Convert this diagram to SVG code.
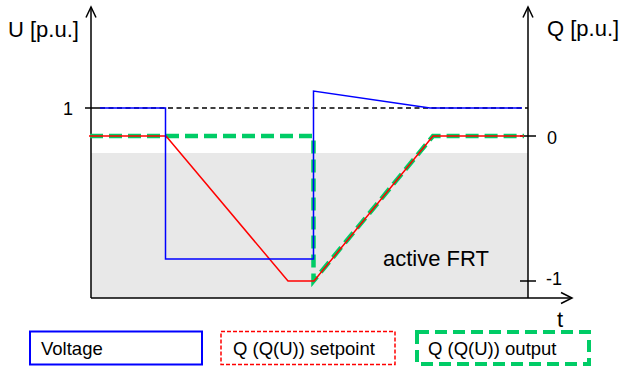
<svg xmlns="http://www.w3.org/2000/svg" width="622" height="371" viewBox="0 0 622 371">
  <style>
    text { font-family: "Liberation Sans", Arial, sans-serif; fill: #000; }
    .axis { stroke: #000; stroke-width: 1.5; fill: none; }
    .lbl { font-size: 22px; }
    .tick { font-size: 18px; }
    .leg { font-size: 18.5px; }
    .volt { stroke: #0000FF; stroke-width: 1.5; fill: none; }
    .setp { stroke: #FF0000; stroke-width: 1.5; fill: none; }
    .outp { stroke: #00CC66; stroke-width: 4.5; fill: none; stroke-dasharray: 13 6; }
  </style>
  <rect width="622" height="371" fill="#fff"/>
  <g id="frt-area">
    <rect x="91" y="153" width="437" height="145" fill="#E8E8E8"/>
    <text class="lbl" x="383" y="266">active FRT</text>
  </g>
  <g id="axes">
    <line class="axis" x1="91" y1="7" x2="91" y2="298"/>
    <polyline class="axis" points="86,17.5 91,7 96,17.5"/>
    <line class="axis" x1="528" y1="7" x2="528" y2="298"/>
    <polyline class="axis" points="523,17.5 528,7 533,17.5"/>
    <line class="axis" x1="91" y1="298" x2="572" y2="298"/>
    <polyline class="axis" points="561,292.5 572,298 561,303.5"/>
    <line class="axis" x1="85" y1="108" x2="100" y2="108"/>
    <line class="axis" x1="520" y1="136" x2="536" y2="136"/>
    <line class="axis" x1="520" y1="281" x2="536" y2="281"/>
    <line x1="100" y1="108" x2="528" y2="108" stroke="#000" stroke-width="1.3" stroke-dasharray="5 3.5"/>
    <text class="lbl" x="8" y="37">U [p.u.]</text>
    <text class="lbl" x="547" y="36">Q [p.u.]</text>
    <text class="tick" x="63" y="115">1</text>
    <text class="tick" x="547" y="144">0</text>
    <text class="tick" x="546" y="285">-1</text>
    <text class="lbl" x="557" y="327">t</text>
  </g>
  <g id="connectors">
    <polyline id="q-output" class="outp" points="90,136 313.5,136 313.5,281 433,136 524,136"/>
    <polyline id="q-setpoint" class="setp" points="89,136 166,136 288,281 314,281 433,136 524,136"/>
    <polyline id="voltage" class="volt" points="100,108 165.5,108 165.5,259 313.5,259 313.5,91 430,108 522,108"/>
  </g>
  <g id="legend-voltage">
    <rect x="30" y="331.5" width="172" height="33" fill="none" stroke="#0000FF" stroke-width="2"/>
    <text class="leg" x="41" y="355">Voltage</text>
  </g>
  <g id="legend-setpoint">
    <rect x="221" y="331.5" width="174" height="33" fill="none" stroke="#FF0000" stroke-width="1.5" stroke-dasharray="4 2"/>
    <text class="leg" x="233" y="355">Q (Q(U)) setpoint</text>
  </g>
  <g id="legend-output">
    <rect x="417" y="332" width="172" height="32" fill="none" stroke="#00CC66" stroke-width="4" stroke-dasharray="12 6"/>
    <text class="leg" x="428" y="355">Q (Q(U)) output</text>
  </g>
</svg>
